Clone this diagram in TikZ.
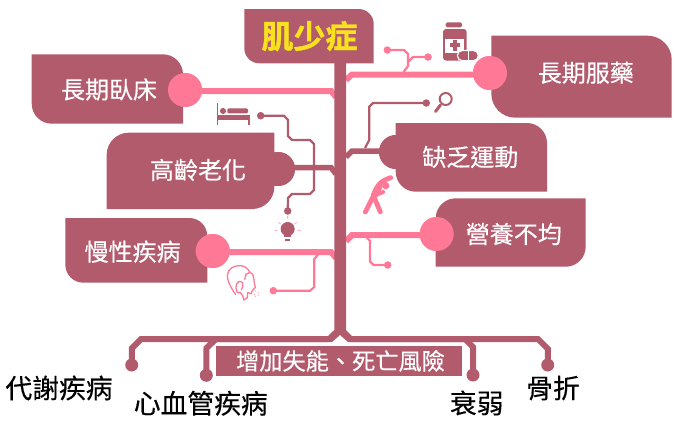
\documentclass[tikz,border=0pt]{standalone}
\usepackage{fontspec}
\setmainfont{Noto Sans CJK TC}
\newfontfamily\labelcjk[RawFeature={embolden=0.35}]{Noto Sans CJK TC}
\newfontfamily\titlecjk[RawFeature={embolden=1.2}]{Noto Sans CJK TC Bold}
\definecolor{rosedark}{HTML}{B25B6D}
\definecolor{rosepink}{HTML}{FF7896}
\definecolor{titleyellow}{HTML}{F8E11E}
\newcommand{\roundTRBL}[5]{\fill[rosedark] (#1,#2) -- ({#3-#5},#2) .. controls ({#3-.45*#5},#2) and (#3,{#2+.45*#5}) .. (#3,{#2+#5}) -- (#3,#4) -- ({#1+#5},#4) .. controls ({#1+.45*#5},#4) and (#1,{#4-.45*#5}) .. (#1,{#4-#5}) -- cycle;}
\newcommand{\roundTLBR}[5]{\fill[rosedark] ({#1+#5},#2) -- (#3,#2) -- (#3,{#4-#5}) .. controls (#3,{#4-.45*#5}) and ({#3-.45*#5},#4) .. ({#3-#5},#4) -- (#1,#4) -- (#1,{#2+#5}) .. controls (#1,{#2+.45*#5}) and ({#1+.45*#5},#2) .. ({#1+#5},#2) -- cycle;}
\tikzset{
  x=1pt,y=-1pt,
  hub/.style={circle,inner sep=0pt,minimum size=34pt},
  hubpink/.style={hub,fill=rosepink},
  hubdark/.style={hub,fill=rosedark},
  tipsmall/.style={circle,inner sep=0pt,minimum size=7.5pt},
  tipbig/.style={circle,inner sep=0pt,minimum size=13pt,fill=rosedark},
  heavypink/.style={draw=rosepink,line width=6pt},
  heavydark/.style={draw=rosedark,line width=5.5pt},
  thinpink/.style={draw=rosepink,line width=2.2pt},
  thindark/.style={draw=rosedark,line width=2.2pt},
  outcome/.style={draw=rosedark,line width=6pt},
  cjk/.style={inner sep=0pt},
  boxlabel/.style={cjk,text=white,text height=21.1pt,text depth=2.9pt,font=\labelcjk\fontsize{24}{24}\selectfont},
  bandlabel/.style={cjk,text=white,text height=20.4pt,text depth=2.8pt,font=\labelcjk\fontsize{23.2}{24}\selectfont},
  outlabel/.style={cjk,text=black,text height=23.6pt,text depth=3.2pt,font=\labelcjk\fontsize{26.8}{27}\selectfont},
  titlelabel/.style={cjk,text=titleyellow,text height=28.2pt,text depth=3.8pt,font=\titlecjk\fontsize{32}{32}\selectfont},
}
\begin{document}
\begin{tikzpicture}
\useasboundingbox (0,0) rectangle (675,429);
% anchors on the spine
\coordinate (sA) at (336,97);
\coordinate (sB) at (346,80);
\coordinate (sC) at (336,174);
\coordinate (sD) at (346,157);
\coordinate (sE) at (346,241);
\coordinate (sF) at (336,258);
\coordinate (jA) at (331,91);
\coordinate (jB) at (352,74.5);
\coordinate (jC) at (331,167.5);
\coordinate (jD) at (352,151);
\coordinate (jE) at (352,235);
\coordinate (jF) at (331,252);
% hubs
\node[hubpink] (hA) at (185,90) {};
\node[hubdark] (hC) at (278,169) {};
\node[hubpink] (hB) at (490,73) {};
\node[hubdark] (hD) at (396,152) {};
\node[hubpink] (hE) at (436.7,234) {};
\node[hubpink] (hF) at (212.7,251) {};
% small tips
\node[tipsmall,fill=rosedark] (tBed) at (260.7,115.7) {};
\node[tipsmall,fill=rosedark] (tBulb) at (287.7,211) {};
\node[tipsmall,fill=rosepink] (tMed1) at (387.3,50) {};
\node[tipsmall,fill=rosepink] (tMed2) at (428,57) {};
\node[tipsmall,fill=rosedark] (tLens) at (426.3,103) {};
\node[tipsmall,fill=rosepink] (tFood) at (387.7,265) {};
\node[tipsmall,fill=rosepink] (tFace) at (273.3,290.7) {};
% thin branches
\draw[thindark] (tBed.center) -- (284,115.7) -- (288,120) -- (288,136) -- (292,140) -- (310,140) -- (314,144) -- (314,167);
\draw[thindark] (314,167) -- (314,190) -- (310,194) -- (292,194) -- (288,198) -- (tBulb.center);
\draw[thinpink] (tMed1.center) -- (404,50) -- (408,54) -- (408,66) -- (403.5,72);
\draw[thinpink] (tMed2.center) -- (413,57) -- (408,62);
\draw[thindark] (tLens.center) -- (373,103) -- (369.3,106.7) -- (369.3,140) -- (365,148);
\draw[thinpink] (366.5,237) -- (370,241) -- (370,261.5) -- (373.5,265) -- (tFood.center);
\draw[thinpink] (318.5,254) -- (314.3,259) -- (314.3,287) -- (310,290.7) -- (tFace.center);
% heavy branches
\draw[heavypink] (hA.center |- jA) -- (jA) -- (sA);
\draw[heavypink] (hB.center |- jB) -- (jB) -- (sB);
\draw[heavydark] (hC.center |- jC) -- (jC) -- (sC);
\draw[heavydark] (hD.center |- jD) -- (jD) -- (sD);
\draw[heavypink] (hE.center |- jE) -- (jE) -- (sE);
\draw[heavypink] (hF.center |- jF) -- (jF) -- (sF);
% spine and bottom bar
\fill[rosedark] (334.3,60) -- (346,60) -- (346,330) -- (352,336) -- (352,342) -- (348,342) -- (340,335) -- (332,342) -- (328,342) -- (328,336) -- (334.3,330) -- cycle;
\coordinate (barL) at (328,339);
\coordinate (barR) at (352,339);
\node[tipbig] (oA) at (131.7,365) {};
\node[tipbig] (oB) at (206.3,375.3) {};
\node[tipbig] (oC) at (473,375) {};
\node[tipbig] (oD) at (547.7,365) {};
\draw[outcome] (barL) -- (141,339) -- (132,348) -- (oA.center);
\draw[outcome] (barL) -- (216,339) -- (206.5,348) -- (oB.center);
\draw[outcome] (barR) -- (465,339) -- (473,347) -- (oC.center);
\draw[outcome] (barR) -- (538,339) -- (548,349) -- (oD.center);
% boxes
\roundTRBL{244.3}{9}{373.7}{63.3}{15}
\roundTRBL{31.7}{54.3}{183}{123.7}{20}
\roundTLBR{106.7}{132.7}{274.3}{209}{22}
\roundTRBL{491.3}{35.7}{671.7}{117.7}{24}
\roundTRBL{395.7}{123}{547}{191.7}{20}
\roundTLBR{435.7}{198.3}{585.7}{266.7}{20}
\roundTRBL{65.3}{218}{207.3}{282.7}{18}
\fill[rosedark] (216,345.7) rectangle (462.3,375.7);
% hubs on top of boxes
\fill[rosepink] (hA) circle (17);
\fill[rosedark] (hC) circle (17);
\fill[rosepink] (hB) circle (17);
\fill[rosedark] (hD) circle (17);
\fill[rosepink] (hE) circle (17);
\fill[rosepink] (hF) circle (17);
% labels
\node[titlelabel] (title) at (309.5,36) {肌少症};
\node[boxlabel] (lA) at (109,89.5) {長期臥床};
\node[boxlabel] (lC) at (198,170) {高齡老化};
\node[boxlabel] (lB) at (585.8,72.7) {長期服藥};
\node[boxlabel] (lD) at (470.3,157) {缺乏運動};
\node[boxlabel] (lE) at (513.8,234) {營養不均};
\node[boxlabel] (lF) at (132.5,251.7) {慢性疾病};
\node[bandlabel] (band) at (340.5,361) {增加失能、死亡風險};
\node[outlabel] (xA) at (59,388) {代謝疾病};
\node[outlabel] (xB) at (200.8,403.3) {心血管疾病};
\node[outlabel] (xC) at (476.7,403) {衰弱};
\node[outlabel] (xD) at (553,388) {骨折};
% bed
\fill[rosedark] (216.5,103) rectangle (218.2,125);
\fill[rosedark] (223,111) circle (3.1);
\fill[rosedark,rounded corners=1.2pt] (227.3,108.3) rectangle (248,113.3);
\fill[rosedark] (217,114.5) rectangle (250,119.5);
\fill[rosedark] (248.3,119) rectangle (250,125);
% bottle
\fill[rosedark,rounded corners=1.5pt] (445.7,22.3) rectangle (462,27.3);
\fill[rosedark,rounded corners=3pt] (443,29) rectangle (466.7,60.5);
\fill[white] (445.2,38.5) rectangle (464.4,52.5);
\fill[rosedark] (453,40) rectangle (457,50.5);
\fill[rosedark] (450,43.3) rectangle (460,47.3);
\draw[white,line width=1.2pt,fill=rosedark,rounded corners=4.6pt] (457.5,50.5) rectangle (478.2,60.6);
\draw[white,line width=1pt] (468,51) -- (468,60);
% exercise figure
\begin{scope}[shift={(355,170)},x=1/3*1pt,y=-1/3*1pt]
\draw[rosepink,line width=4.8pt,line cap=round,line join=round] (31,126) -- (57,74) .. controls (63,50) and (75,33) .. (107,23);
\draw[rosepink,line width=7pt,line cap=round] (58,76) -- (72,50);
\draw[rosepink,line width=4.8pt,line cap=round] (60,88) -- (76,126);
\draw[rosepink,line width=4pt,line cap=round] (64,74) -- (84,66);
\fill[rosepink] (92,47) circle (11);
\end{scope}
% bulb
\begin{scope}[shift={(220,215)},x=1/3*1pt,y=-1/3*1pt]
\fill[rosedark] (203,42) circle (21);
\fill[rosedark] (193,58) rectangle (213,66);
\fill[rosedark] (196,68) rectangle (210,79);
\fill[white] (196,70) rectangle (210,73);
\draw[rosepink,line width=.9pt,opacity=.6] (203,3) -- (203,11) (176,22) -- (182,27) (230,22) -- (224,27) (164,46) -- (172,46) (242,46) -- (234,46);
\end{scope}
% coughing face
\begin{scope}[shift={(220,215)},x=1/3*1pt,y=-1/3*1pt]
\draw[rosepink,line width=1.3pt,line join=round,line cap=round] (47,239) .. controls (35,222) and (22,200) .. (22,182) .. controls (22,162) and (42,150) .. (62,152) .. controls (75,153) and (85,162) .. (90,172) -- (98,178) .. controls (103,192) and (102,205) .. (106,217) -- (96,228) -- (94,236) -- (83,233) -- (82,248) -- (72,255) -- (68,242) -- (60,232) .. controls (52,238) and (48,228) .. (48,216) .. controls (48,200) and (62,194) .. (68,204) .. controls (70,212) and (68,218) .. (64,224);
\draw[rosepink,line width=1.3pt] (90,172) -- (78,178) -- (74,194);
\fill[rosepink] (106,228) circle (1.7) (114,232) circle (1.7) (104,238) circle (1.7) (116,240) circle (1.7) (106,244) circle (1.5);
\end{scope}
% magnifier
\draw[rosedark,line width=2pt] (445.7,99) circle (6);
\draw[rosedark,line width=3pt,line cap=round] (440.5,105) -- (435.5,111.5);
\end{tikzpicture}
\end{document}
